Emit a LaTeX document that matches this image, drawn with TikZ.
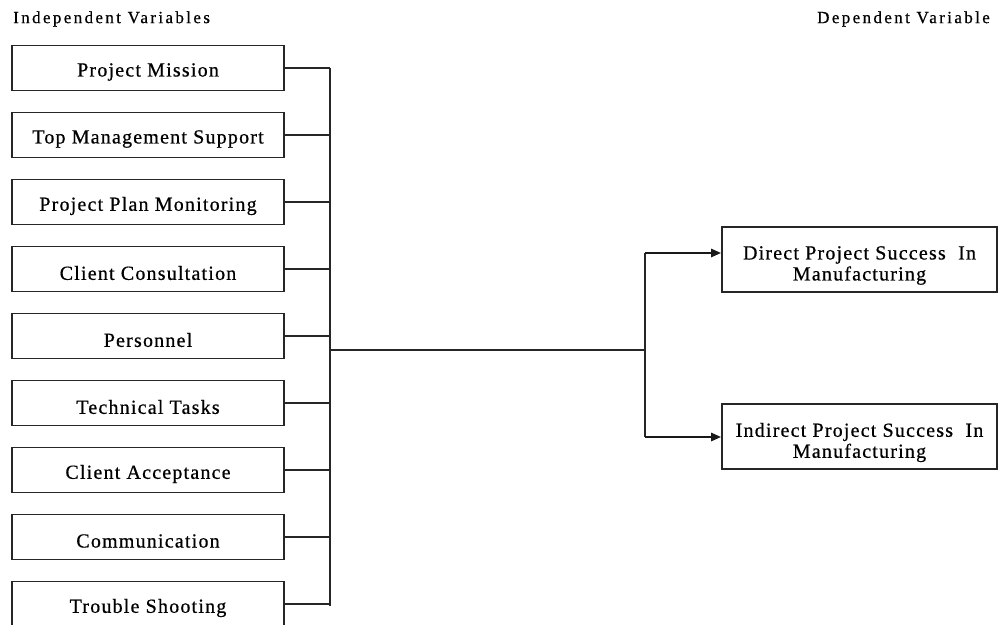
\documentclass[tikz,border=0pt]{standalone}
\usepackage{fontspec}
\setmainfont{Liberation Serif}
\newfontfamily\boxfont[LetterSpace=6,FakeBold=0.6]{Liberation Serif}
\newfontfamily\headfont[LetterSpace=14,FakeBold=0.6]{Liberation Serif}
\usetikzlibrary{arrows.meta}
\begin{document}
\begin{tikzpicture}[x=1pt,y=-1pt,
  ivbox/.style={draw=black!85, line width=1.6pt, minimum width=272pt, minimum height=45pt, inner sep=0pt},
  dvbox/.style={draw=black!85, line width=1.6pt, minimum width=275pt, minimum height=65pt, inner sep=0pt},
  ivtext/.style={inner sep=0pt, font=\boxfont\fontsize{20}{21}\selectfont},
  dvtext/.style={inner sep=0pt, align=center, font=\boxfont\fontsize{20}{21}\selectfont},
  head/.style={anchor=west, inner sep=0pt, font=\headfont\fontsize{17}{18}\selectfont},
  conn/.style={draw=black!85, line width=1.6pt},
  arr/.style={draw=black!90, line width=2.4pt, -{Triangle[length=10pt,width=8pt]}}]
\clip (0,0) rectangle (1000,624);
\fill[white] (0,0) rectangle (1000,624);
\node[head] (hi) at (13,19) {Independent Variables};
\node[head] (hd) at (817,19) {Dependent Variable};
\foreach \t [count=\i] in {Project Mission, Top Management Support, Project Plan Monitoring, Client Consultation, Personnel, Technical Tasks, Client Acceptance, Communication, Trouble Shooting}
  \node[ivbox, label={[ivtext, yshift=-4pt]center:{\t}}] (b\i) at (148,{68+67*(\i-1)}) {};
\coordinate (bt) at (330,68);
\coordinate (bb) at (330,606);
\draw[conn] (bt) -- (bb);
\foreach \i in {1,...,9}
  \draw[conn] (b\i.east) -- (b\i.east -| bt);
\node[dvbox] (d1) at (859.5,259.5) {};
\node[dvtext] (t1) at ([yshift=-6pt]d1.center) {Direct Project Success\ \ In\\Manufacturing};
\node[dvbox] (d2) at (859.5,436.5) {};
\node[dvtext] (t2) at ([yshift=-6pt]d2.center) {Indirect Project Success\ \ In\\Manufacturing};
\coordinate (m) at (330,350);
\coordinate (j) at (645,350);
\coordinate (j1) at (645,253);
\coordinate (j2) at (645,437);
\draw[conn] (m) -- (j);
\draw[conn, line width=2.2pt] (j1) -- (j2);
\draw[arr] (j1) -- (j1 -| d1.west);
\draw[arr] (j2) -- (j2 -| d2.west);
\end{tikzpicture}
\end{document}
